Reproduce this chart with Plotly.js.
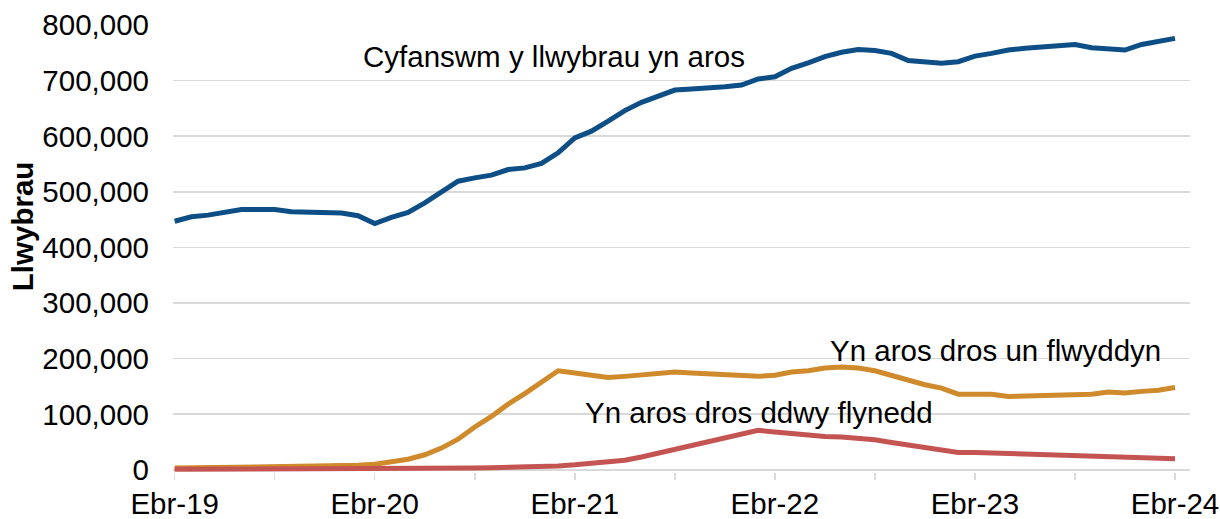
<!DOCTYPE html>
<html>
<head>
<meta charset="utf-8">
<script src="https://cdn.plot.ly/plotly-3.0.1.min.js"></script>
<style>html,body{margin:0;padding:0;background:#fff;}#chart{width:1220px;height:519px;}</style>
</head>
<body>
<div id="chart"></div>
<script>
// Months Ebr-19 .. Ebr-24 (monthly)
const monthNames = ['Ion','Chwe','Maw','Ebr','Mai','Meh','Gor','Awst','Medi','Hyd','Tach','Rhag'];
const months = [];
for (let y = 2019; y <= 2024; y++) {
  for (let m = 0; m < 12; m++) {
    if ((y === 2019 && m < 3) || (y === 2024 && m > 3)) continue;
    months.push(monthNames[m] + '-' + String(y).slice(2));
  }
}

// Cyfanswm y llwybrau yn aros
const totalWaiting = [447000,455000,458000,462000,468000,468000,468000,464000,463000,463000,462000,457000,
  443000,454000,463000,480000,500000,519000,525000,530000,540000,543000,551000,570000,
  597000,609000,627000,646000,661000,672000,683000,685000,686000,689000,692000,703000,
  707000,722000,732000,743000,751000,756000,754000,749000,736000,734000,731000,734000,
  744000,749000,755000,758000,761000,762000,765000,759000,756000,755000,765000,771000,776000];

// Yn aros dros un flwyddyn
const overOneYear = [3000,3500,3500,3500,3500,4000,4000,4500,5000,5500,6500,8000,
  10000,14000,19000,27000,39000,55000,77000,96000,118000,137000,158000,178000,
  174000,170000,166000,168000,171000,173000,176000,174000,173000,171000,169000,168000,
  170000,176000,178000,183000,185000,183000,178000,169000,161000,153000,147000,136000,
  136000,136000,132000,133000,134000,133000,134000,136000,140000,138000,141000,143000,148000];

// Yn aros dros ddwy flynedd
const overTwoYears = [1000,1000,1000,1000,1000,1000,1000,1000,1000,1200,1200,1300,
  1400,1500,1500,1600,2000,2500,3000,3500,4000,5000,6000,7000,
  9000,11000,13000,17000,23000,30000,38000,45000,52000,59000,66000,71000,
  68000,65000,62000,60000,59000,57000,54000,49000,45000,41000,36000,31000,
  31000,30000,28000,27000,26000,25000,25000,24000,23000,23000,22000,20000,20000];

const seriesNames = ['Cyfanswm y llwybrau yn aros','Yn aros dros un flwyddyn','Yn aros dros ddwy flynedd'];
const tickMonths = ['Ebr-19','Hyd-19','Ebr-20','Hyd-20','Ebr-21','Hyd-21','Ebr-22','Hyd-22','Ebr-23','Hyd-23','Ebr-24'];
const tickLabels = ['Ebr-19','','Ebr-20','','Ebr-21','','Ebr-22','','Ebr-23','','Ebr-24'];
const yTicks = [0,100000,200000,300000,400000,500000,600000,700000,800000];

const FONT = 'Liberation Sans, Arial, sans-serif';
const FS = 29.5;
const colors = ['#0d4e86','#cf8a2c','#c45451'];
const series = [totalWaiting, overOneYear, overTwoYears];

const traces = series.map((s, k) => ({
  x: months, y: s, type: 'scatter', mode: 'lines', name: seriesNames[k],
  line: {color: colors[k], width: 5, shape: 'linear'}, hoverinfo: 'skip'
}));

const layout = {
  width: 1220, height: 519,
  margin: {l: 173.3, r: 30, t: 25, b: 46.8, pad: 0},
  paper_bgcolor: '#fff', plot_bgcolor: '#fff',
  showlegend: false,
  font: {family: FONT, size: FS, color: '#000'},
  xaxis: {
    type: 'category', range: [-0.1, 60.9],
    tickmode: 'array', tickvals: tickMonths, ticktext: tickLabels,
    ticks: 'outside', ticklen: 7, tickwidth: 1.5, tickcolor: '#d9d9d9',
    ticklabelstandoff: -1,
    showgrid: false, showline: false, zeroline: false,
    tickfont: {family: FONT, size: FS, color: '#000'}
  },
  yaxis: {
    range: [-4000, 800000], tickmode: 'array', tickvals: yTicks, tickformat: ',d',
    showgrid: true, gridcolor: '#d9d9d9', gridwidth: 1.5,
    zeroline: true, zerolinecolor: '#d9d9d9', zerolinewidth: 1.5,
    showline: false, ticks: '', ticklabelstandoff: 23,
    tickfont: {family: FONT, size: FS, color: '#000'}
  },
  annotations: [
    {xref: 'paper', yref: 'paper', x: -0.148, y: 0.551, xanchor: 'center', yanchor: 'middle',
     text: '<b>Llwybrau</b>', textangle: -90, showarrow: false,
     font: {family: FONT, size: FS, color: '#000'}},
    {xref: 'x', yref: 'y', x: 11.2, y: 744000, xanchor: 'left', yanchor: 'middle',
     text: seriesNames[0], showarrow: false, font: {family: FONT, size: FS, color: '#000'}},
    {xref: 'x', yref: 'y', x: 39.2, y: 215000, xanchor: 'left', yanchor: 'middle',
     text: seriesNames[1], showarrow: false, font: {family: FONT, size: FS, color: '#000'}},
    {xref: 'x', yref: 'y', x: 24.5, y: 102500, xanchor: 'left', yanchor: 'middle',
     text: seriesNames[2], showarrow: false, font: {family: FONT, size: FS, color: '#000'}}
  ]
};

Plotly.newPlot('chart', traces, layout, {staticPlot: true, displayModeBar: false});
</script>
</body>
</html>
